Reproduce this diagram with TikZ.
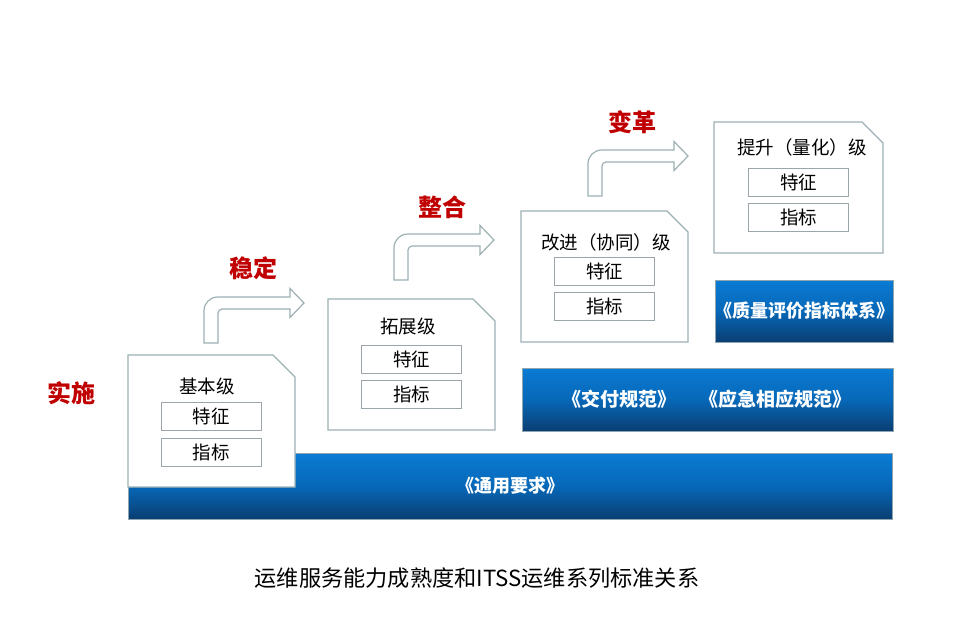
\documentclass[tikz,border=0pt]{standalone}
\usepackage{fontspec}
\setmainfont{Noto Sans CJK SC}
\definecolor{boxgray}{HTML}{9DB0B4}
\definecolor{itemgray}{HTML}{9AA6AA}
\definecolor{stred}{HTML}{C00000}
\definecolor{bartop}{HTML}{0A7BD4}
\definecolor{barmid}{HTML}{0768B8}
\definecolor{barbot}{HTML}{0A3E72}
\definecolor{barline}{HTML}{8FA5B2}
\begin{document}
\begin{tikzpicture}[x=1pt,y=-1pt,
  lvl/.style={draw=boxgray,line width=1.1pt,fill=white,line join=miter},
  item/.style={draw=itemgray,line width=0.9pt,fill=white,minimum width=100pt,minimum height=28pt,inner sep=0pt,font=\fontsize{18.5}{20}\selectfont},
  ttl/.style={inner sep=0pt,font=\fontsize{18.5}{20}\selectfont},
  stage/.style={inner sep=0pt,text=stred,font=\fontsize{24}{26}\selectfont\bfseries},
  bar/.style={draw=barline,line width=1pt,top color=bartop,bottom color=barbot,middle color=barmid,inner sep=0pt},
  bartext/.style={inner sep=0pt,text=white,font=\fontsize{18}{20}\selectfont\bfseries},
  bent/.style={draw=boxgray,line width=1.2pt,fill=white,line join=miter}]
\useasboundingbox (0,0) rectangle (963,635);
% bars
\node[bar,minimum width=764pt,minimum height=66pt] (req) at (510,486) {};
\node[bartext] (reqt) at (510,486) {《通用要求》};
\node[bar,minimum width=371pt,minimum height=63pt] (del) at (707.5,399.5) {};
\node[bartext,font=\fontsize{19}{21}\selectfont\bfseries] (delt1) at (619,399.5) {《交付规范》};
\node[bartext,font=\fontsize{19}{21}\selectfont\bfseries] (delt2) at (775,399.5) {《应急相应规范》};
\node[bar,minimum width=178pt,minimum height=62pt] (qual) at (804,311) {};
\node[bartext] (qualt) at (804,311) {《质量评价指标体系》};
% level boxes
\draw[lvl] (128,355) -- (273,355) -- (295,377) -- (295,487) -- (128,487) -- cycle;
\draw[lvl] (328,299) -- (473,299) -- (495,321) -- (495,430) -- (328,430) -- cycle;
\draw[lvl] (521,211) -- (667,211) -- (688,232) -- (688,342) -- (521,342) -- cycle;
\draw[lvl] (714,122) -- (862,122) -- (883,143) -- (883,253) -- (714,253) -- cycle;
\node[ttl] (t1) at (207,386) {基本级};
\node[item] (f1) at (211,416.5) {特征};
\node[item] (i1) at (211,452) {指标};
\node[ttl] (t2) at (408,326) {拓展级};
\node[item] (f2) at (411.5,359.5) {特征};
\node[item] (i2) at (411.5,394) {指标};
\node[ttl] (t3) at (606,242) {改进（协同）级};
\node[item] (f3) at (604.5,271) {特征};
\node[item] (i3) at (604.5,306.5) {指标};
\node[ttl] (t4) at (802,147) {提升（量化）级};
\node[item] (f4) at (798.5,182) {特征};
\node[item] (i4) at (798.5,217) {指标};
% bent arrows
\foreach \sx/\sy in {204/343, 394/280, 588/196}{
  \draw[bent,shift={(\sx,\sy)}] (0,0) -- (0,-32) .. controls (0,-40) and (6,-46) .. (14,-46)
    -- (86,-46) -- (86,-54.5) -- (100,-40) -- (86,-25.5) -- (86,-34) -- (18,-34)
    .. controls (16,-34) and (14,-32) .. (14,-30) -- (14,0) -- cycle;
}
% stage labels
\node[stage] (s1) at (71,393) {实施};
\node[stage] (s2) at (253,268) {稳定};
\node[stage] (s3) at (442,207) {整合};
\node[stage] (s4) at (632,122) {变革};
% caption
\node[inner sep=0pt,font=\fontsize{22.2}{25}\selectfont] (cap) at (477,578) {运维服务能力成熟度和ITSS运维系列标准关系};
\end{tikzpicture}
\end{document}
